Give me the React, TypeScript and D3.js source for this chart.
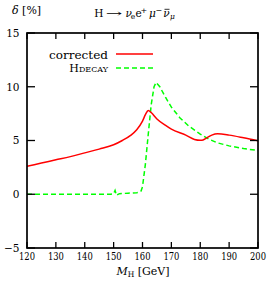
import * as d3 from "d3";

const xTicks = [120, 130, 140, 150, 160, 170, 180, 190, 200];
const yTicks = [-5, 0, 5, 10, 15];

// corrected width, delta in %
const corrM = [120, 125, 130, 135, 140, 145, 150, 153, 156, 158, 160, 161, 162, 163, 165, 168, 170, 175, 178, 180, 181, 182, 184, 186, 190, 195, 200];
const corrD = [2.6, 2.9, 3.2, 3.5, 3.85, 4.2, 4.6, 5.0, 5.5, 6.0, 6.8, 7.4, 7.8, 7.6, 7.0, 6.4, 6.05, 5.5, 5.1, 5.02, 5.05, 5.2, 5.5, 5.62, 5.5, 5.25, 4.97];

// HDECAY
const hdecM = [120, 130, 140, 149, 150, 150.5, 151, 152, 155, 158, 159, 159.5, 160, 161, 162, 163, 164, 164.7, 166, 168, 170, 173, 176, 180, 183, 186, 190, 195, 200];
const hdecD = [0, 0, 0, 0, 0.05, 0.35, -0.1, 0.05, 0.1, 0.15, 0.2, 0.3, 0.7, 2.8, 5.6, 8.3, 10.0, 10.4, 10.0, 9.0, 8.1, 7.1, 6.35, 5.6, 5.12, 4.78, 4.5, 4.25, 4.07];

const W = 270;
const H = 293;
const L = 27, R = 258, T = 33, B = 248;
const FONT = "'DejaVu Serif', serif";

export default function App() {
  const x = d3.scaleLinear().domain([120, 200]).range([L, R]);
  const y = d3.scaleLinear().domain([-5, 15]).range([B, T]);

  const corr = d3
    .line<[number, number]>()
    .x((d) => x(d[0]))
    .y((d) => y(d[1]))
    .curve(d3.curveMonotoneX)(corrM.map((m, i) => [m, corrD[i]]) as [number, number][]);
  const hdec = d3
    .line<[number, number]>()
    .x((d) => x(d[0]))
    .y((d) => y(d[1]))(hdecM.map((m, i) => [m, hdecD[i]]) as [number, number][]);

  return (
    <svg
      width={W}
      height={H}
      style={{ position: "absolute", left: 0, top: 0, background: "#fff", fontFamily: FONT }}
    >
      <defs>
        <clipPath id="plot">
          <rect x={L} y={T} width={R - L} height={B - T} />
        </clipPath>
      </defs>

      {/* curves */}
      <g clipPath="url(#plot)" fill="none" strokeWidth={1.5}>
        <path d={hdec ?? ""} stroke="#00ff00" strokeDasharray="5,3" />
        <path d={corr ?? ""} stroke="#ff0000" />
      </g>

      {/* ticks */}
      <g stroke="#000" strokeWidth={1.3}>
        {xTicks.map((t) => (
          <g key={"x" + t}>
            <line x1={x(t)} x2={x(t)} y1={B} y2={B - 6} />
            <line x1={x(t)} x2={x(t)} y1={T} y2={T + 6} />
          </g>
        ))}
        {yTicks.map((t) => (
          <g key={"y" + t}>
            <line x1={L} x2={L + 8} y1={y(t)} y2={y(t)} />
            <line x1={R} x2={R - 8} y1={y(t)} y2={y(t)} />
          </g>
        ))}
      </g>

      <rect x={L} y={T} width={R - L} height={B - T} fill="none" stroke="#000" strokeWidth={1.7} />

      {/* tick labels */}
      <g fontSize={10.5} fill="#000">
        {xTicks.map((t) => (
          <text key={"xl" + t} x={x(t)} y={259.5} textAnchor="middle" textLength={16} lengthAdjust="spacingAndGlyphs">
            {t}
          </text>
        ))}
        {yTicks.map((t) => (
          <text key={"yl" + t} x={19.5} y={y(t) + 3.8} textAnchor="end">
            {t < 0 ? "\u2212" + Math.abs(t) : t}
          </text>
        ))}
      </g>

      {/* axis titles */}
      <text x={143} y={274.5} fontSize={11} textAnchor="middle">
        <tspan fontStyle="italic">M</tspan>
        <tspan fontSize={7.5} dy={2}>H</tspan>
        <tspan dy={-2}> [GeV]</tspan>
      </text>
      <text x={12} y={14} fontSize={11}>
        <tspan fontStyle="italic">δ</tspan> [%]
      </text>

      {/* title */}
      <g fontSize={10.5}>
        <text x={94.3} y={16.7}>H</text>
        <text x={105.7} y={16.7} textLength={16.6} lengthAdjust="spacingAndGlyphs">→</text>
        <text x={125.5} y={16.7} fontStyle="italic">ν</text>
        <text x={130.7} y={18.7} fontSize={7.5}>e</text>
        <text x={135.5} y={16.7}>e</text>
        <text x={140.5} y={12.5} fontSize={8}>+</text>
        <text x={149} y={16.7} fontStyle="italic">μ</text>
        <text x={155.5} y={12.5} fontSize={8}>−</text>
        <text x={163.3} y={16.7} fontStyle="italic">ν</text>
        <line x1={164.5} x2={169.5} y1={9.3} y2={9.3} stroke="#000" strokeWidth={0.8} />
        <text x={170} y={18.7} fontSize={7.5} fontStyle="italic">μ</text>
      </g>

      {/* legend */}
      <g fontSize={11}>
        <text x={108} y={59} textAnchor="end" textLength={59} lengthAdjust="spacingAndGlyphs">corrected</text>
        <line x1={116} x2={153} y1={54} y2={54} stroke="#ff0000" strokeWidth={1.5} />
        <text x={108} y={72} textAnchor="end">
          H<tspan fontSize={8}>DECAY</tspan>
        </text>
        <line x1={116} x2={153} y1={68} y2={68} stroke="#00ff00" strokeWidth={1.5} strokeDasharray="5,3" />
      </g>
    </svg>
  );
}
